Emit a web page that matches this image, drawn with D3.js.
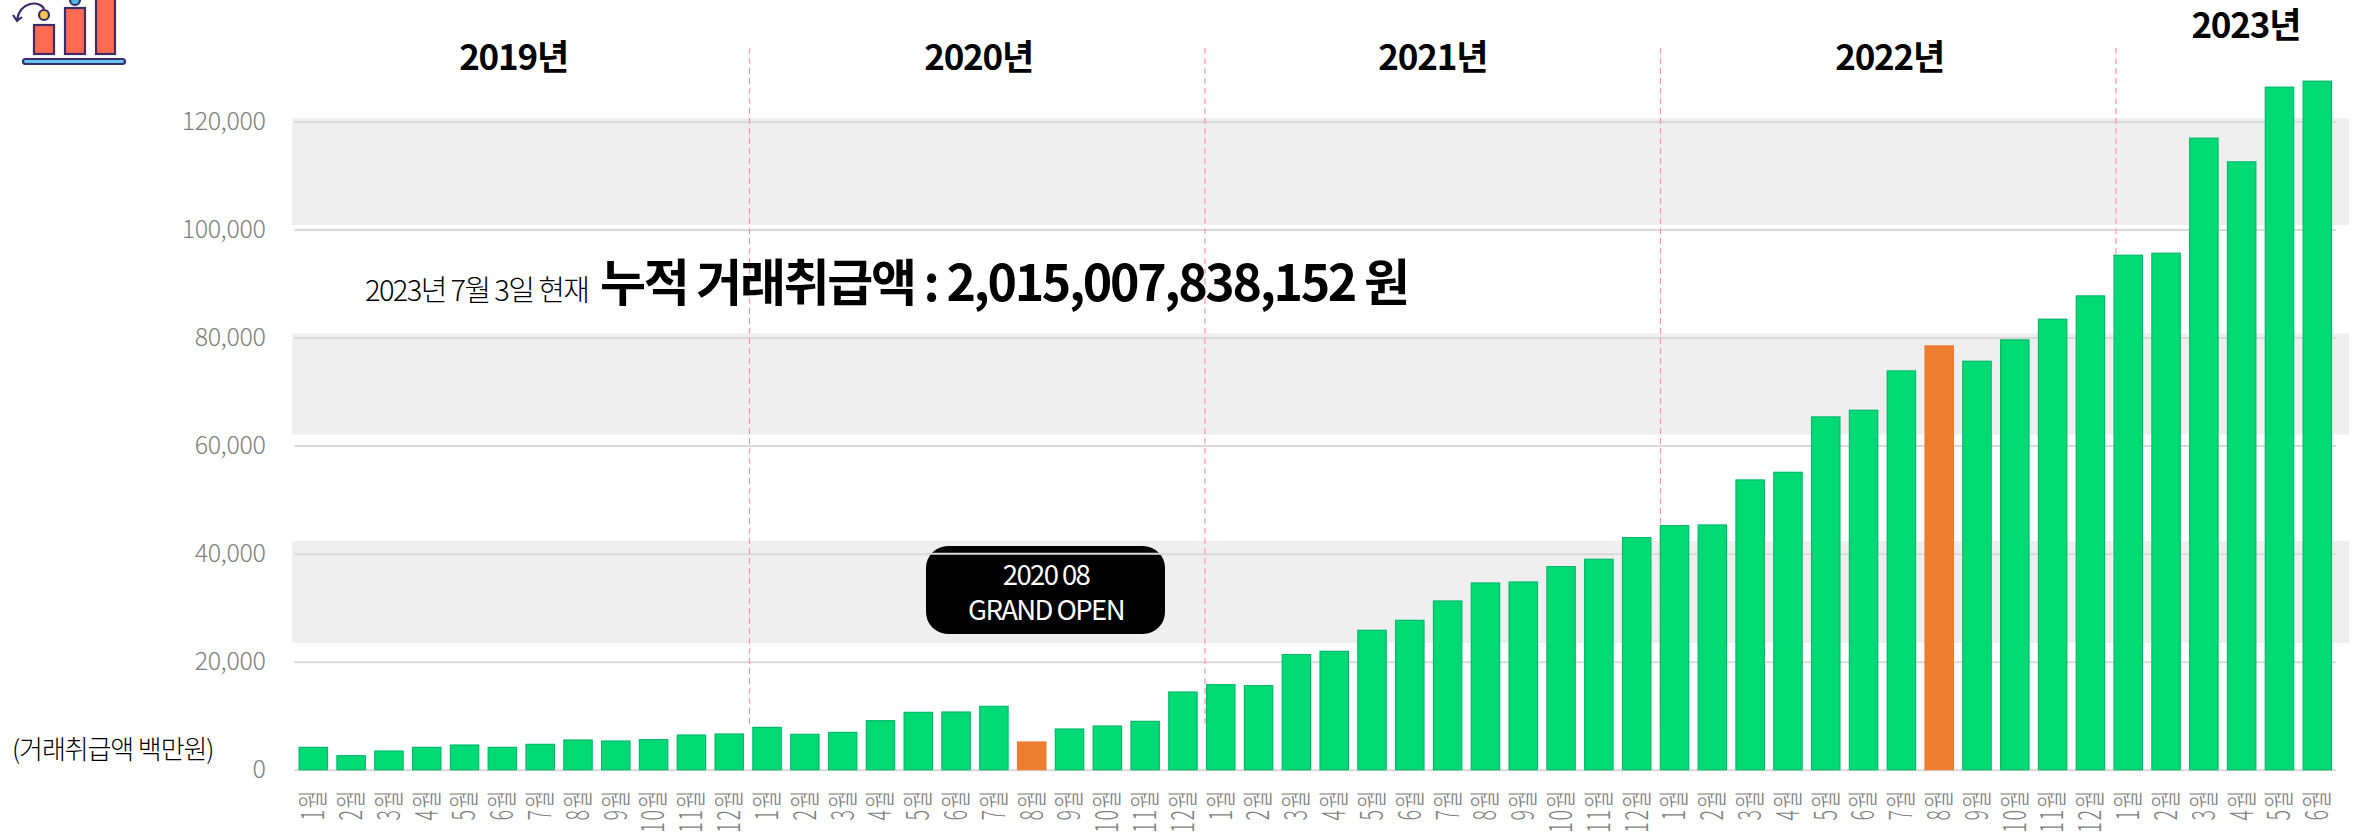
<!DOCTYPE html>
<html>
<head>
<meta charset="utf-8">
<script src="https://cdn.jsdelivr.net/npm/d3@7"></script>
<style>
  html, body { margin: 0; padding: 0; background: #fff; }
  svg { display: block; }
  text { font-family: "Noto Sans CJK KR", "Noto Sans", sans-serif; }
</style>
</head>
<body>
<div id="chart"></div>
<script>
// Monthly values, 2019-01 .. 2023-06 (million KRW)
const values2019 = [4136, 2593, 3457, 4136, 4568, 4136, 4691, 5494, 5309, 5556, 6420, 6605];
const values2020 = [7840, 6543, 6914, 9074, 10617, 10679, 11728, 5123, 7531, 8086, 8951, 14383];
const values2021 = [15741, 15556, 21296, 21914, 25803, 27654, 31235, 34568, 34753, 37593, 38951, 42963];
const values2022 = [45186, 45309, 53642, 55062, 65310, 66545, 73827, 78457, 75617, 79568, 83395, 87716];
const values2023 = [95247, 95617, 116914, 112531, 126358, 127469];

const years = [2019, 2020, 2021, 2022, 2023];
const yTicks = [0, 20000, 40000, 60000, 80000, 100000, 120000];
const highlighted = ["2020-8", "2022-8"];
const dividerYears = [2020, 2021, 2022, 2023];
// the stripes don't sit on the gridlines in the original
const stripeRanges = [[100850, 120650], [62050, 80800], [23460, 42350]];

const data = [values2019, values2020, values2021, values2022, values2023]
    .flatMap((vals, i) => vals.map((v, m) => ({ key: `${years[i]}-${m + 1}`, month: m + 1, value: v })));

const width = 2359, height = 836;
const svg = d3.select("#chart").append("svg").attr("width", width).attr("height", height);

// Scales
const x = d3.scaleBand()
    .domain(data.map(d => d.key))
    .range([294.4, 2336.2])
    .paddingInner(0.25)
    .paddingOuter(0.125);
const y = d3.scaleLinear().domain([0, 120000]).range([769.7, 121.5]);
// year boundaries are not quite on the band edges in the original
const yearX = d3.scaleLinear().domain([2020, 2023]).range([749.5, 2116]);

// Grey stripes
svg.selectAll("rect.stripe")
    .data(stripeRanges)
    .enter().append("rect")
    .attr("class", "stripe")
    .attr("x", 292)
    .attr("y", d => y(d[1]))
    .attr("width", 2349 - 292)
    .attr("height", d => y(d[0]) - y(d[1]))
    .attr("fill", "#efefef");

// Y axis + grid
const yAxis = svg.append("g")
    .attr("transform", "translate(294.4,0)")
    .call(d3.axisLeft(y).tickValues(yTicks).tickSize(-(2336.2 - 294.4)).tickPadding(29).tickFormat(d3.format(",")));
yAxis.select(".domain").remove();
yAxis.selectAll("line").attr("stroke", "#d9d9d9").attr("stroke-width", 2);
yAxis.selectAll("text")
    .attr("fill", "#7f7f7f")
    .style("font-size", "25px")
    .style("font-weight", 300)
    .style("letter-spacing", "-0.4px");

// Year dividers
svg.selectAll("line.divider")
    .data(dividerYears)
    .enter().append("line")
    .attr("class", "divider")
    .attr("x1", d => yearX(d))
    .attr("x2", d => yearX(d))
    .attr("y1", 48)
    .attr("y2", 724)
    .attr("stroke", "#ff93b2")
    .attr("stroke-width", 1.2)
    .attr("stroke-dasharray", "6,4");

// Bars
svg.selectAll("rect.bar")
    .data(data)
    .enter().append("rect")
    .attr("class", "bar")
    .attr("x", d => x(d.key))
    .attr("y", d => y(d.value))
    .attr("width", x.bandwidth())
    .attr("height", d => y(0) - y(d.value))
    .attr("fill", d => highlighted.includes(d.key) ? "#ed7d31" : "#00da75")
    .attr("stroke", d => highlighted.includes(d.key) ? "#ed7d31" : "#00b96a")
    .attr("stroke-width", 1.2);

// X axis, rotated month labels (stretched across like the original)
const xAxis = svg.append("g")
    .attr("transform", `translate(0,${y(0)})`)
    .call(d3.axisBottom(x).tickSize(0).tickFormat(k => `${k.split("-")[1]}월`));
xAxis.select(".domain").remove();
xAxis.selectAll("text")
    .attr("transform", "translate(0,19) rotate(-90) scale(0.85,1.35)")
    .attr("x", 0)
    .attr("y", 0)
    .attr("dy", "0.35em")
    .style("text-anchor", "end")
    .style("font-size", "23px")
    .style("font-weight", 300)
    .style("letter-spacing", "2px")
    .attr("fill", "#7f7f7f");

// Year titles
const yearLabels = years.map(d => `${d}년`);
const yearLabelAt = [2019.482, 2020.503, 2021.5, 2022.503, 2023.285];
svg.selectAll("text.year")
    .data(yearLabels)
    .enter().append("text")
    .attr("class", "year")
    .attr("x", (d, i) => yearX(yearLabelAt[i]))
    .attr("y", (d, i) => i === 4 ? 38 : 70)
    .attr("text-anchor", "middle")
    .style("font-size", "35px")
    .style("font-weight", 700)
    .style("letter-spacing", "-1.2px")
    .text(d => d);

// Headline
svg.append("text")
    .attr("x", 365).attr("y", 301)
    .style("font-size", "29px").style("font-weight", 300).style("letter-spacing", "-1.6px")
    .text("2023년 7월 3일 현재");
svg.append("text")
    .attr("x", 600).attr("y", 301)
    .style("font-size", "50px").style("font-weight", 700).style("letter-spacing", "-2.35px")
    .text("누적 거래취급액 : 2,015,007,838,152 원");

// Unit note
svg.append("text")
    .attr("x", 12).attr("y", 759)
    .style("font-size", "26px").style("font-weight", 300).style("letter-spacing", "-1.1px")
    .text("(거래취급액 백만원)");

// Grand open callout
svg.append("rect")
    .attr("x", 926).attr("y", 546).attr("width", 239).attr("height", 88).attr("rx", 22)
    .attr("fill", "#000");
svg.append("line")
    .attr("x1", 926).attr("x2", 1165).attr("y1", y(40000)).attr("y2", y(40000))
    .attr("stroke", "#d9d9d9").attr("stroke-width", 2);
svg.selectAll("text.callout")
    .data(["2020 08", "GRAND OPEN"])
    .enter().append("text")
    .attr("class", "callout")
    .attr("x", 1046)
    .attr("y", (d, i) => 585 + i * 35)
    .attr("text-anchor", "middle")
    .attr("fill", "#fff")
    .style("font-size", "27.5px")
    .style("letter-spacing", "-1.6px")
    .text(d => d);

// Icon, clipped by the top of the page
const icon = svg.append("g").attr("stroke", "#3d2c66").attr("stroke-width", 2.2);
icon.selectAll("rect.icon-bar")
    .data([[34, 25, 20, 29], [65, 8, 20, 46], [96, -4, 19, 58]])
    .enter().append("rect")
    .attr("class", "icon-bar")
    .attr("x", d => d[0]).attr("y", d => d[1]).attr("width", d => d[2]).attr("height", d => d[3])
    .attr("fill", "#ff6b52");
icon.append("rect").attr("x", 23).attr("y", 59).attr("width", 102).attr("height", 5).attr("rx", 2.5).attr("fill", "#62c6f2");
icon.append("path").attr("d", "M44,9 C40,0 20,1 17,20 M13,15 L17,21 L22,17").attr("fill", "none");
icon.append("circle").attr("cx", 44).attr("cy", 15).attr("r", 5).attr("fill", "#f9c74f");
icon.append("circle").attr("cx", 75).attr("cy", 0).attr("r", 5).attr("fill", "#4db8ea");
</script>
</body>
</html>
